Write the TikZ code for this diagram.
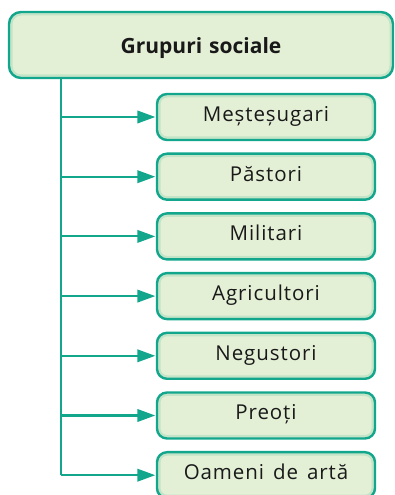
\documentclass[tikz,border=0pt]{standalone}
\usepackage{fontspec}
\setmainfont{Open Sans}
\newfontfamily\itemfont[LetterSpace=4.5]{Open Sans}
\usetikzlibrary{arrows.meta,calc}
\definecolor{edge}{RGB}{18,166,140}
\definecolor{boxfill}{RGB}{228,240,214}
\definecolor{glow}{RGB}{196,228,200}
\definecolor{ink}{RGB}{25,25,25}
\tikzset{
  glowbox/.style={draw=edge, line width=2.4pt, fill=boxfill, rounded corners=#1,
    path picture={\draw[glow, line width=7pt, rounded corners=#1]
      (path picture bounding box.south west) rectangle (path picture bounding box.north east);},
    text=ink, inner sep=0pt},
  headbox/.style={glowbox=12pt, minimum width=384pt, minimum height=66pt,
    text height=18pt, text depth=0pt, font=\fontsize{21}{24}\selectfont\bfseries},
  itembox/.style={glowbox=10pt, minimum width=218pt, minimum height=46pt,
    text height=14pt, text depth=5pt, font=\itemfont\fontsize{20.5}{24}\selectfont},
  link/.style={draw=edge, line width=2.2pt},
  arrowlink/.style={link, -{Triangle[length=18pt,width=12.5pt]}, shorten >=0.5pt}
}
\begin{document}
\begin{tikzpicture}[x=1pt,y=1pt]
\useasboundingbox (0,0) rectangle (395,495);
\begin{scope}
\clip (0,0) rectangle (395,495);
\node[headbox] (head) at (201,450) {Grupuri\hspace{7pt}sociale};
\coordinate (trunk) at (61,417);
\node[itembox] (c1) at (266,378) {Meșteșugari};
\node[itembox] (c2) at (266,318.3) {Păstori};
\node[itembox] (c3) at (266,258.6) {Militari};
\node[itembox] (c4) at (266,198.9) {Agricultori};
\node[itembox] (c5) at (266,139.2) {Negustori};
\node[itembox] (c6) at (266,79.5) {Preoți};
\node[itembox] (c7) at (266,19.8) {Oameni\hspace{9pt}de\hspace{9pt}artă};
\draw[link] (head.south -| trunk) -- (c7.west -| trunk);
\foreach \n in {c1,c2,c3,c4,c5,c6,c7}{
  \draw[arrowlink] (\n.west -| trunk) -- (\n.west);
}
\end{scope}
\end{tikzpicture}
\end{document}
